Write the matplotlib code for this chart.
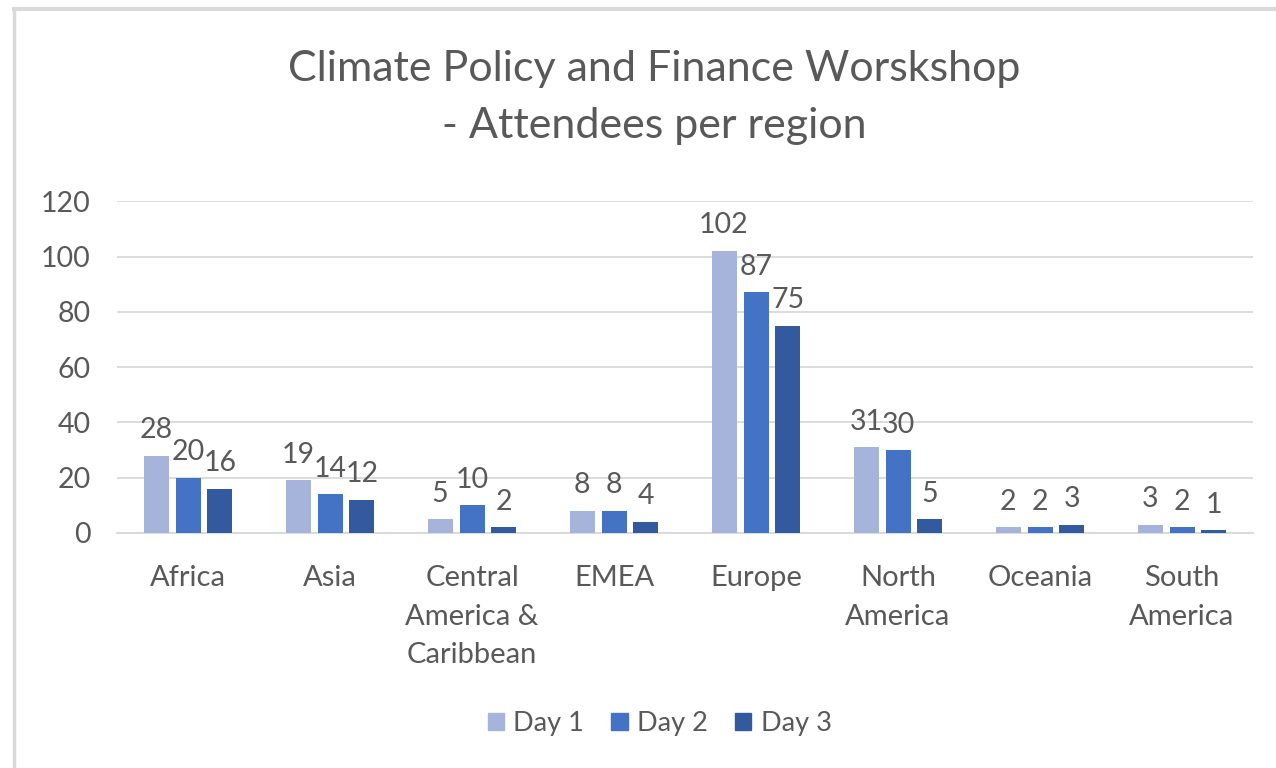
import matplotlib.pyplot as plt
import numpy as np
from matplotlib.lines import Line2D

regions = ["Africa", "Asia", "Central\nAmerica &\nCaribbean", "EMEA", "Europe",
           "North\nAmerica", "Oceania", "South\nAmerica"]
day1 = [28, 19, 5, 8, 102, 31, 2, 3]
day2 = [20, 14, 10, 8, 87, 30, 2, 2]
day3 = [16, 12, 2, 4, 75, 5, 3, 1]
series_names = ["Day 1", "Day 2", "Day 3"]
colors = ["#A6B4DB", "#4472C4", "#335A9F"]
yticks = [0, 20, 40, 60, 80, 100, 120]

plt.rcParams['font.family'] = ['Lato', 'DejaVu Sans']
txt = "#595959"

fig = plt.figure(figsize=(12.76, 7.68), dpi=100)
ax = fig.add_axes([0.0917, 0.306, 0.8903, 0.432])

x = np.arange(len(regions))
width = 0.176
step = 0.225
for i, (vals, name, c) in enumerate(zip([day1, day2, day3], series_names, colors)):
    pos = x + (i - 1) * step
    ax.bar(pos, vals, width, color=c, label=name, zorder=3)
    for p, v in zip(pos, vals):
        ax.annotate(str(v), (p, v), xytext=(0, 9), textcoords="offset points",
                    ha="center", va="bottom", fontsize=20.5, color=txt)

ax.set_xlim(-0.5, len(regions) - 0.5)
ax.set_ylim(0, 120)
ax.set_yticks(yticks)
ax.set_yticklabels([str(t) for t in yticks], fontsize=20.5, color=txt)
ax.set_xticks(x)
ax.set_xticklabels(regions, fontsize=21, color=txt, linespacing=1.6, va="top")
ax.tick_params(axis="both", length=0)
ax.tick_params(axis="x", pad=23)
ax.tick_params(axis="y", pad=19)
ax.grid(axis="y", color="#D9D9D9", linewidth=1.3, zorder=0)
for s in ["top", "right", "left"]:
    ax.spines[s].set_visible(False)
ax.spines["bottom"].set_color("#D9D9D9")
ax.spines["bottom"].set_linewidth(1.3)

fig.text(0.513, 0.873, "Climate Policy and Finance Worskshop\n- Attendees per region",
         ha="center", va="center", fontsize=31, color=txt, linespacing=1.63)

handles = [plt.Rectangle((0, 0), 1, 1, color=c) for c in colors]
fig.legend(handles, series_names, loc="center", bbox_to_anchor=(0.517, 0.058),
           ncol=3, frameon=False, fontsize=19.5, labelcolor=txt,
           handlelength=0.6, handleheight=0.6, handletextpad=0.35, columnspacing=1.0)

# screenshot frame lines
fig.add_artist(Line2D([0.011, 1.0], [0.988, 0.988], color="#D9D9D9", linewidth=3))
fig.add_artist(Line2D([0.011, 0.011], [0.0, 0.988], color="#D9D9D9", linewidth=2.5))

fig.savefig("out.png", dpi=100, facecolor="white")
